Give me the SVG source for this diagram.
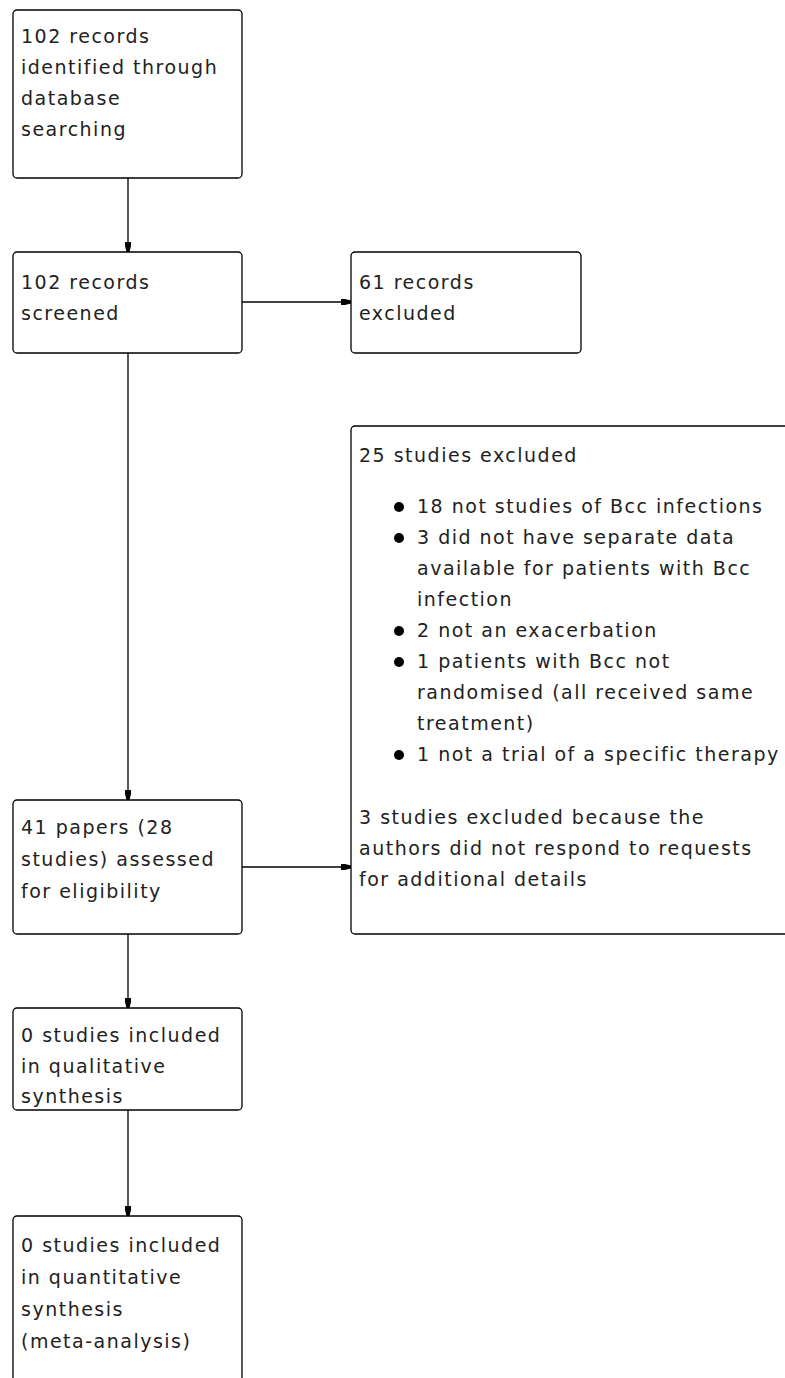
<svg xmlns="http://www.w3.org/2000/svg" width="785" height="1378" viewBox="0 0 785 1378">
<style>
.box{fill:#fff;stroke:#000;stroke-width:1.3}
.t{font-family:"DejaVu Sans",Verdana,sans-serif;font-size:19px;letter-spacing:1.5px;fill:#222}
.c{stroke:#000;stroke-width:1.3;fill:none}
.b{fill:#000}
</style>
<defs>
<marker id="ah" markerWidth="11" markerHeight="9" refX="10" refY="4.5" orient="auto" markerUnits="userSpaceOnUse">
<path d="M0,1.5 L4,1.5 L10,3 L10,6 L4,7.5 L0,7.5 Z" fill="#000"/>
</marker>
</defs>
<rect width="785" height="1378" fill="#fff"/>
<g id="connectors">
<line class="c" x1="128" y1="178" x2="128" y2="252" marker-end="url(#ah)"/>
<line class="c" x1="242" y1="302" x2="351" y2="302" marker-end="url(#ah)"/>
<line class="c" x1="128" y1="353" x2="128" y2="800" marker-end="url(#ah)"/>
<line class="c" x1="242" y1="867" x2="351" y2="867" marker-end="url(#ah)"/>
<line class="c" x1="128" y1="934" x2="128" y2="1008" marker-end="url(#ah)"/>
<line class="c" x1="128" y1="1110" x2="128" y2="1216" marker-end="url(#ah)"/>
</g>
<g id="identified">
<rect class="box" x="13" y="10" width="229" height="168" rx="4"/>
<text class="t" x="21" y="43">102 records</text>
<text class="t" x="21" y="74">identified through</text>
<text class="t" x="21" y="105">database</text>
<text class="t" x="21" y="136">searching</text>
</g>
<g id="screened">
<rect class="box" x="13" y="252" width="229" height="101" rx="4"/>
<text class="t" x="21" y="289">102 records</text>
<text class="t" x="21" y="320">screened</text>
</g>
<g id="excluded61">
<rect class="box" x="351" y="252" width="230" height="101" rx="4"/>
<text class="t" x="359" y="289">61 records</text>
<text class="t" x="359" y="320">excluded</text>
</g>
<g id="excluded25">
<rect class="box" x="351" y="426" width="450" height="508" rx="4"/>
<text class="t" x="359" y="462">25 studies excluded</text>
<circle class="b" cx="399" cy="507" r="5"/>
<text class="t" x="417" y="513">18 not studies of Bcc infections</text>
<circle class="b" cx="399" cy="538" r="5"/>
<text class="t" x="417" y="544">3 did not have separate data</text>
<text class="t" x="417" y="575">available for patients with Bcc</text>
<text class="t" x="417" y="606">infection</text>
<circle class="b" cx="399" cy="631" r="5"/>
<text class="t" x="417" y="637">2 not an exacerbation</text>
<circle class="b" cx="399" cy="662" r="5"/>
<text class="t" x="417" y="668">1 patients with Bcc not</text>
<text class="t" x="417" y="699">randomised (all received same</text>
<text class="t" x="417" y="730">treatment)</text>
<circle class="b" cx="399" cy="755" r="5"/>
<text class="t" x="417" y="761">1 not a trial of a specific therapy</text>
<text class="t" x="359" y="824">3 studies excluded because the</text>
<text class="t" x="359" y="855">authors did not respond to requests</text>
<text class="t" x="359" y="886">for additional details</text>
</g>
<g id="assessed">
<rect class="box" x="13" y="800" width="229" height="134" rx="4"/>
<text class="t" x="21" y="834">41 papers (28</text>
<text class="t" x="21" y="866">studies) assessed</text>
<text class="t" x="21" y="898">for eligibility</text>
</g>
<g id="qualitative">
<rect class="box" x="13" y="1008" width="229" height="102" rx="4"/>
<text class="t" x="21" y="1042">0 studies included</text>
<text class="t" x="21" y="1073">in qualitative</text>
<text class="t" x="21" y="1103">synthesis</text>
</g>
<g id="quantitative">
<rect class="box" x="13" y="1216" width="229" height="180" rx="4"/>
<text class="t" x="21" y="1252">0 studies included</text>
<text class="t" x="21" y="1284">in quantitative</text>
<text class="t" x="21" y="1316">synthesis</text>
<text class="t" x="21" y="1348">(meta-analysis)</text>
</g>
</svg>
